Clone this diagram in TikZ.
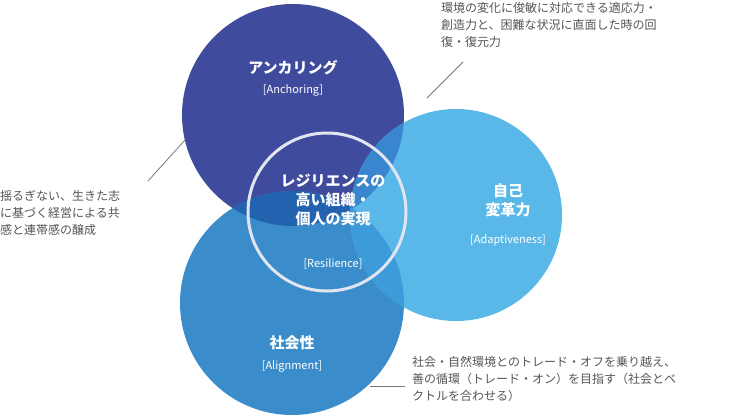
\documentclass[tikz,border=0pt]{standalone}
\usepackage{fontspec}
\setmainfont{Noto Sans CJK JP}
\usetikzlibrary{calc}
\definecolor{cdark}{HTML}{3F4C9E}
\definecolor{clight}{HTML}{5AB8E8}
\definecolor{cmed}{HTML}{3A8CCB}
\definecolor{cdm}{HTML}{2262AE}
\definecolor{cdl}{HTML}{3A86CE}
\definecolor{cml}{HTML}{3D9BDA}
\definecolor{ctxt}{HTML}{555555}
\tikzset{
 title/.style={white,font=\fontsize{15}{19}\selectfont\bfseries,align=center},
 sub/.style={white,font=\fontsize{11}{13}\selectfont\itshape},
 note/.style={ctxt,font=\fontsize{12}{17}\selectfont,align=left,anchor=north west,inner sep=0},
 lead/.style={ctxt!80,line width=0.8pt}
}
\begin{document}
\begin{tikzpicture}[x=1pt,y=-1pt]
\useasboundingbox (0,0) rectangle (731,416);
\coordinate (A) at (293,115); \coordinate (B) at (292,303); \coordinate (C) at (456,215);
\fill[cdark] (A) circle (111);
\fill[cmed] (B) circle (112);
\fill[clight] (C) circle (106);
\begin{scope}\clip (A) circle (111); \fill[cdm] (B) circle (112); \end{scope}
\begin{scope}\clip (A) circle (111); \fill[cdl] (C) circle (106); \end{scope}
\begin{scope}\clip (B) circle (112); \fill[cml] (C) circle (106); \end{scope}
\draw[white!85!cdark,line width=3pt] (327,212) circle (79);
\node[title] (t1) at (293,68) {アンカリング};
\node[sub] (s1) at (293,90) {[Anchoring]};
\node[title] (t2) at (333,200) {レジリエンスの\\高い組織・\\個人の実現};
\node[sub] (s2) at (333,264) {[Resilience]};
\node[title] (t3) at (508,200) {自己\\変革力};
\node[sub] (s3) at (508,240) {[Adaptiveness]};
\node[title] (t4) at (292,343) {社会性};
\node[sub] (s4) at (292,366) {[Alignment]};
\node[note] (n1) at (0,190) {揺るぎない、生きた志\\に基づく経営による共\\感と連帯感の醸成};
\node[note] (n2) at (441,2) {環境の変化に俊敏に対応できる適応力・\\創造力と、困難な状況に直面した時の回\\復・復元力};
\node[note] (n3) at (412,356) {社会・自然環境とのトレード・オフを乗り越え、\\善の循環（トレード・オン）を目指す（社会とベ\\クトルを合わせる）};
\coordinate (e1) at (185,140); \coordinate (e2) at (427,98); \coordinate (e3) at (370,386);
\draw[lead] (148,181) -- (e1);
\draw[lead] (463,62) -- (e2);
\draw[lead] (405,386) -- (e3);
\end{tikzpicture}
\end{document}
